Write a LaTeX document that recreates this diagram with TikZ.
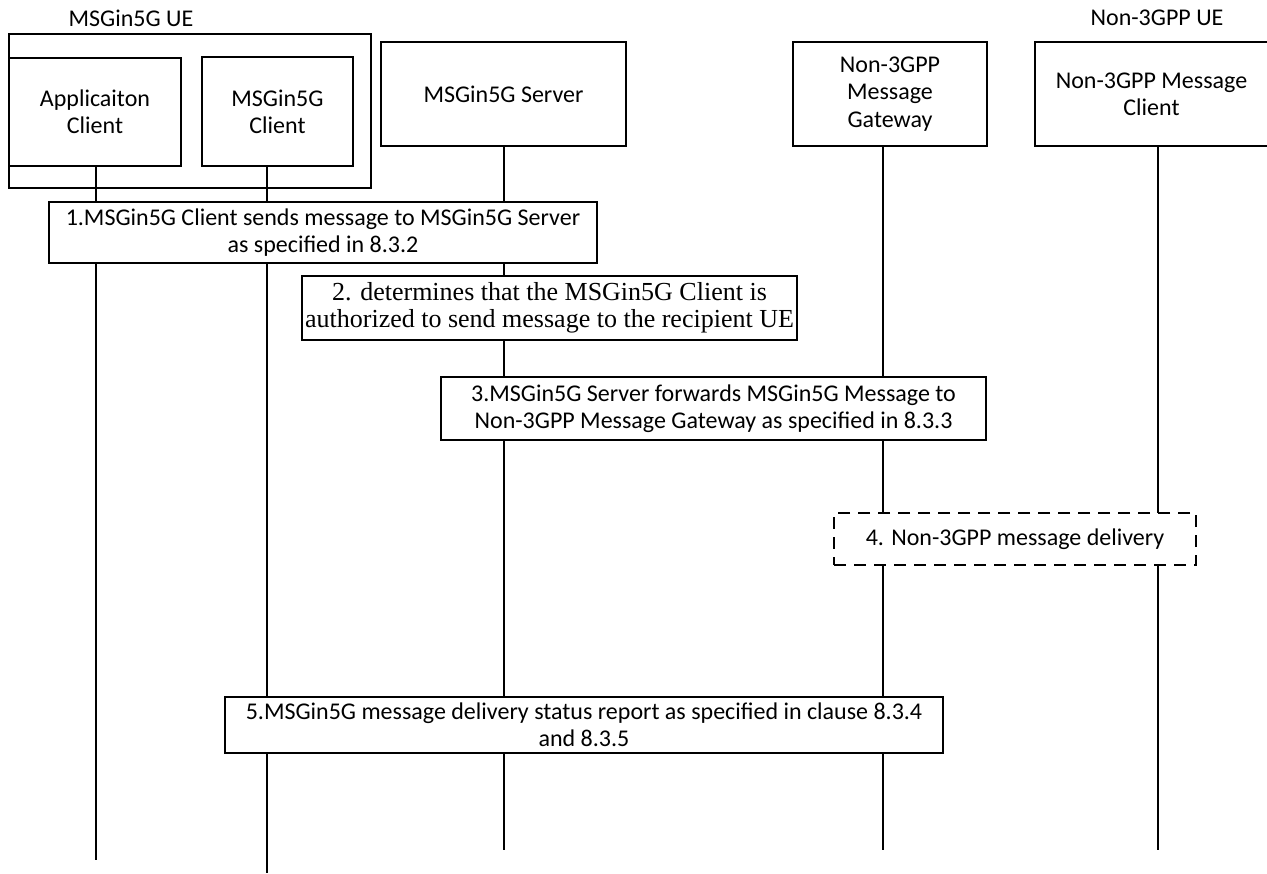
\documentclass[tikz,border=0pt]{standalone}
\usepackage{fontspec}
\setmainfont{Carlito}
\newfontfamily\timesfont{Liberation Serif}
\begin{document}
\begin{tikzpicture}[x=0.75pt, y=-0.75pt, line width=1pt,
    box/.style 2 args={draw, fill=white, minimum width=#1*0.75pt,
        minimum height=#2*0.75pt, inner sep=0pt, align=center,
        font=\fontsize{18}{20.5}\selectfont},
    title/.style={font=\fontsize{18}{20.5}\selectfont}]
    \useasboundingbox (0,0) rectangle (1267,874);
    \clip (0,0) rectangle (1267,874);

    % UE frames and entities
    \node[box={362}{154}] (ue) at (190,111) {};
    \node[title] (uelabel) at (131,18) {MSGin5G UE};
    \node[title] (n3uelabel) at (1157,18) {Non-3GPP UE};
    \node[box={172}{108}] (appc) at (95,112) {Applicaiton\\Client};
    \node[box={151}{109}] (msgc) at (277.5,111.5) {MSGin5G\\Client};
    \node[box={245}{104}] (srv) at (503.5,94) {MSGin5G Server};
    \node[box={194}{104}] (gw) at (890,94) {Non-3GPP\\Message\\Gateway};
    \node[box={233}{104}] (n3c) at (1151.5,94) {Non-3GPP Message\\Client};

    % Lifeline ends
    \coordinate (append) at (96,860);
    \coordinate (msgcend) at (267,873);
    \coordinate (srvend) at (504,850);
    \coordinate (gwend) at (883,850);
    \coordinate (n3cend) at (1158,850);

    % Lifelines
    \draw (appc.south -| append) -- (append);
    \draw (msgc.south -| msgcend) -- (msgcend);
    \draw (srv.south -| srvend) -- (srvend);
    \draw (gw.south -| gwend) -- (gwend);
    \draw (n3c.south -| n3cend) -- (n3cend);

    % Steps
    \node[box={548}{61}] (step1) at (323,232.5)
        {1.MSGin5G Client sends message to MSGin5G Server\\as specified in 8.3.2};
    \node[box={495}{64}, font=\timesfont\fontsize{19.5}{20.5}\selectfont] (step2) at (549.5,308)
        {2. determines that the MSGin5G Client is\\authorized to send message to the recipient UE};
    \node[box={545}{63}] (step3) at (713.5,408.5)
        {3.MSGin5G Server forwards MSGin5G Message to\\Non-3GPP Message Gateway as specified in 8.3.3};
    \node[box={362}{52}, dash pattern=on 9pt off 6pt] (step4) at (1015,539)
        {4. Non-3GPP message delivery};
    \node[box={718}{56}] (step5) at (584,725)
        {5.MSGin5G message delivery status report as specified in clause 8.3.4\\and 8.3.5};
\end{tikzpicture}
\end{document}
